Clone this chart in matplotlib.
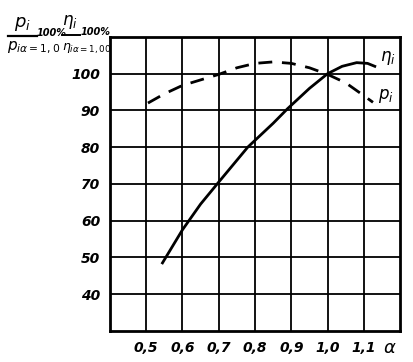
import numpy as np
import matplotlib; matplotlib.use('Agg'); import matplotlib.pyplot as plt
from matplotlib.lines import Line2D

# data
eta_alpha = [0.545, 0.60, 0.65, 0.70, 0.78, 0.85, 0.89, 0.95, 1.00, 1.04, 1.08, 1.11, 1.13]
eta_vals = [48.5, 57.5, 64.5, 70.5, 80.0, 86.5, 90.5, 96.0, 100.0, 102.0, 103.0, 102.8, 102.0]
p_alpha = [0.505, 0.55, 0.60, 0.65, 0.70, 0.75, 0.80, 0.85, 0.90, 0.95, 1.00, 1.05, 1.10, 1.125]
p_vals = [92.0, 94.5, 96.8, 98.3, 99.8, 101.6, 102.8, 103.2, 102.8, 101.6, 99.8, 97.5, 94.0, 92.2]
xticks = [0.5, 0.6, 0.7, 0.8, 0.9, 1.0, 1.1]
xticklabels = ['0,5', '0,6', '0,7', '0,8', '0,9', '1,0', '1,1']
yticks = [40, 50, 60, 70, 80, 90, 100]

plt.rcParams.update({'font.family': 'DejaVu Sans', 'mathtext.fontset': 'dejavusans'})
W, H = 413, 362
fig = plt.figure(figsize=(W / 100, H / 100), dpi=100)
ax = fig.add_axes([0.266, 0.086, 0.703, 0.812])
ax.set_xlim(0.4, 1.2); ax.set_ylim(30, 110)
ax.set_xticks(xticks); ax.set_yticks(yticks)
ax.set_xticklabels(xticklabels, fontsize=10, fontweight='bold', style='italic')
ax.set_yticklabels([str(v) for v in yticks], fontsize=10, fontweight='bold', style='italic')
ax.tick_params(length=0, pad=7)
ax.grid(True, color='black', lw=1.3)
for s in ax.spines.values():
    s.set_linewidth(2.0)

ax.plot(eta_alpha, eta_vals, color='black', lw=2.0)
ax.plot(p_alpha, p_vals, color='black', lw=2.0, dashes=(5, 3.5))
ax.text(1.145, 103.5, r'$\eta_i$', fontsize=12, fontweight='bold')
ax.text(1.14, 93.0, r'$p_i$', fontsize=12, fontweight='bold')

fig.text(0.945, 0.04, r'$\alpha$', fontsize=13, ha='center', va='center')

def px(x, y):
    return x / W, 1 - y / H

# y-axis label: two fractions with "100%"
fig.text(*px(22, 24), r'$p_i$', fontsize=13, ha='center', va='center')
fig.add_artist(Line2D([8 / W, 37 / W], [1 - 36 / H] * 2, color='black', lw=1.6))
fig.text(*px(7, 48), r'$p_{i\alpha=1,0}$', fontsize=11, ha='left', va='center')
fig.text(*px(37, 33), '100%', fontsize=7, fontweight='bold', style='italic', ha='left', va='center')
fig.text(*px(70, 22), r'$\eta_i$', fontsize=12, ha='center', va='center')
fig.add_artist(Line2D([62 / W, 80 / W], [1 - 35 / H] * 2, color='black', lw=1.4))
fig.text(*px(62, 49), r'$\eta_{i\alpha=1,00}$', fontsize=9, ha='left', va='center')
fig.text(*px(81, 32), '100%', fontsize=7, fontweight='bold', style='italic', ha='left', va='center')

fig.savefig('out.png', dpi=100)
